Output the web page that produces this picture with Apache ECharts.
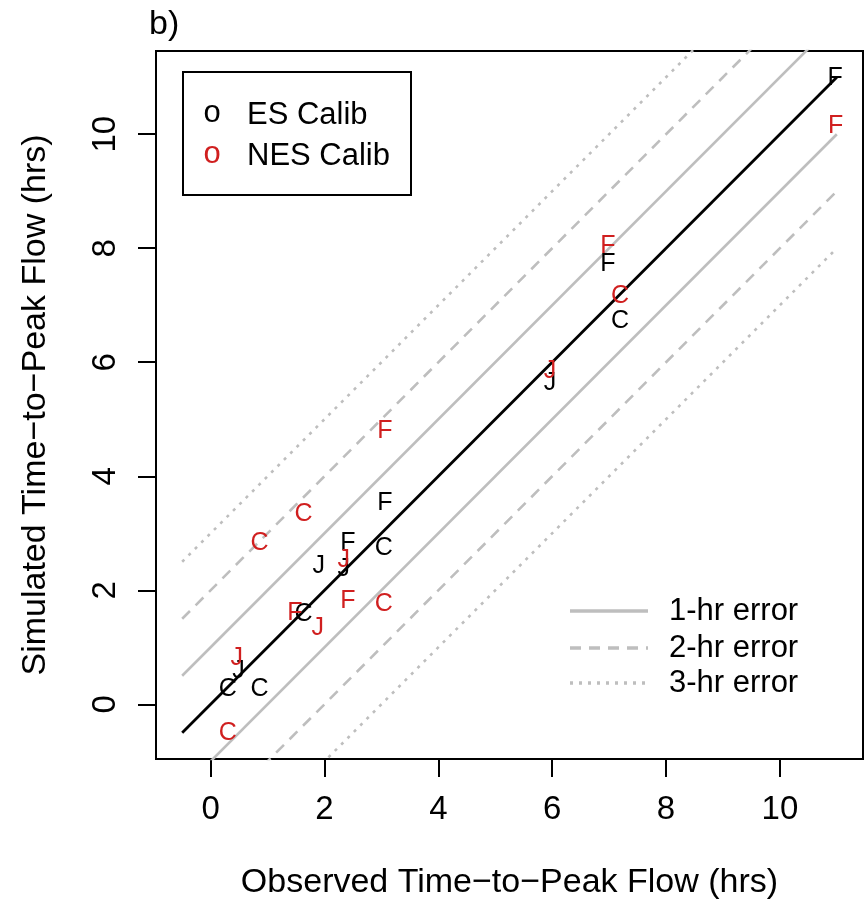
<!DOCTYPE html>
<html><head><meta charset="utf-8">
<script src="https://cdn.jsdelivr.net/npm/echarts@6/dist/echarts.min.js"></script>
<style>html,body{margin:0;padding:0;background:#fff}#c{width:865px;height:907px}</style>
</head><body><div id="c"></div>
<script>
// ---- data ----
const esLabels = ['F','F','C','J','F','C','F','J','J','C','C','J','C'];
const esX = [10.97,6.98,7.19,5.96,3.06,3.04,2.41,1.90,2.34,1.63,0.30,0.49,0.86];
const esY = [11.00,7.74,6.74,5.65,3.54,2.75,2.84,2.44,2.39,1.60,0.28,0.60,0.28];
const nesLabels = ['F','F','C','J','F','C','C','J','F','C','F','J','J','C'];
const nesX = [10.98,6.98,7.19,5.96,3.06,1.63,0.86,2.34,2.41,3.04,1.48,1.88,0.46,0.30];
const nesY = [10.16,8.05,7.18,5.86,4.81,3.35,2.84,2.54,1.82,1.77,1.61,1.35,0.82,-0.49];
const tickValues = [0,2,4,6,8,10];
const errorOffsets = [1,2,3];
const errorNames = ['1-hr error','2-hr error','3-hr error'];
const seriesNames = ['ES Calib','NES Calib'];
const lineStart = -0.5, lineEnd = 11;
const axisMin = -0.96, axisMax = 11.46;

// ---- styles ----
const FONT = 'Liberation Sans';
const RED = '#d01f1f';
const GRAY = '#bebebe';
const dashes = ['solid', [11, 8], [3, 6]];
const zDashes = [null, [11, 8], [3, 6]];

const series = [];
errorOffsets.forEach((k, i) => {
  [k, -k].forEach(off => {
    series.push({
      type: 'line', silent: true, symbol: 'none', clip: true, z: 1,
      data: [[lineStart, lineStart + off], [lineEnd, lineEnd + off]],
      lineStyle: { color: GRAY, width: 2.6, type: dashes[i] }
    });
  });
});
series.push({
  type: 'line', silent: true, symbol: 'none', clip: true, z: 2,
  data: [[lineStart, lineStart], [lineEnd, lineEnd]],
  lineStyle: { color: '#000', width: 2.8 }
});
function pts(xs, ys, labs, color, name, z) {
  return {
    type: 'custom', name: name, z: z, silent: true,
    data: xs.map((x, i) => [x, ys[i], labs[i]]),
    encode: { x: 0, y: 1 },
    renderItem: function (params, api) {
      const p = api.coord([api.value(0), api.value(1)]);
      return {
        type: 'text',
        style: {
          text: String(labs[params.dataIndex]), x: p[0], y: p[1] + 1,
          fill: color, font: '25px "Liberation Sans"',
          align: 'center', verticalAlign: 'middle'
        }
      };
    }
  };
}
series.push(pts(esX, esY, esLabels, '#000', seriesNames[0], 3));
series.push(pts(nesX, nesY, nesLabels, RED, seriesNames[1], 4));

const axisCommon = {
  type: 'value', min: axisMin, max: axisMax,
  splitLine: { show: false },
  axisLine: { show: false, onZero: false },
  axisTick: { show: true, length: 18, customValues: tickValues, lineStyle: { color: '#000', width: 2 } },
  nameTextStyle: { fontSize: 34, fontFamily: FONT, color: '#000' },
  nameLocation: 'middle'
};

const graphic = [
  { type: 'text', left: 149, top: 8, style: { text: 'b)', font: '34px "Liberation Sans"', fill: '#000' } },
  { type: 'rect', shape: { x: 183, y: 72, width: 228, height: 123 }, style: { fill: '#fff', stroke: '#000', lineWidth: 2 }, z: 10 },
  { type: 'text', z: 11, style: { text: 'o', x: 212, y: 113, font: '31px "Liberation Sans"', fill: '#000', align: 'center', verticalAlign: 'middle' } },
  { type: 'text', z: 11, style: { text: seriesNames[0], x: 247, y: 115, font: '31px "Liberation Sans"', fill: '#000', align: 'left', verticalAlign: 'middle' } },
  { type: 'text', z: 11, style: { text: 'o', x: 212, y: 154, font: '31px "Liberation Sans"', fill: RED, align: 'center', verticalAlign: 'middle' } },
  { type: 'text', z: 11, style: { text: seriesNames[1], x: 247, y: 156, font: '31px "Liberation Sans"', fill: '#000', align: 'left', verticalAlign: 'middle' } }
];
const legY = [611, 648, 683];
errorNames.forEach((n, i) => {
  graphic.push({ type: 'line', z: 11, shape: { x1: 570, y1: legY[i], x2: 648, y2: legY[i] },
    style: { stroke: GRAY, lineWidth: 3.5, lineDash: zDashes[i] } });
  graphic.push({ type: 'text', z: 11, style: { text: n, x: 669, y: legY[i], font: '31px "Liberation Sans"', fill: '#000', align: 'left', verticalAlign: 'middle' } });
});

const chart = echarts.init(document.getElementById('c'), null, { renderer: 'canvas' });
chart.setOption({
  backgroundColor: '#fff',
  animation: false,
  grid: { left: 156, right: 2, top: 51, bottom: 148, show: true, borderColor: '#000', borderWidth: 2, backgroundColor: 'transparent' },
  xAxis: Object.assign({}, axisCommon, {
    position: 'bottom',
    name: 'Observed Time\u2212to\u2212Peak Flow (hrs)', nameGap: 107,
    axisLabel: { show: true, customValues: tickValues, margin: 34, fontSize: 33, fontFamily: FONT, color: '#000', formatter: v => String(v) }
  }),
  yAxis: Object.assign({}, axisCommon, {
    position: 'left',
    name: 'Simulated Time\u2212to\u2212Peak Flow (hrs)', nameGap: 103,
    axisLabel: { show: true, customValues: tickValues, margin: 34, rotate: 90, fontSize: 33, fontFamily: FONT, color: '#000', formatter: v => String(v) }
  }),
  graphic: graphic,
  series: series
});
</script>
</body></html>
